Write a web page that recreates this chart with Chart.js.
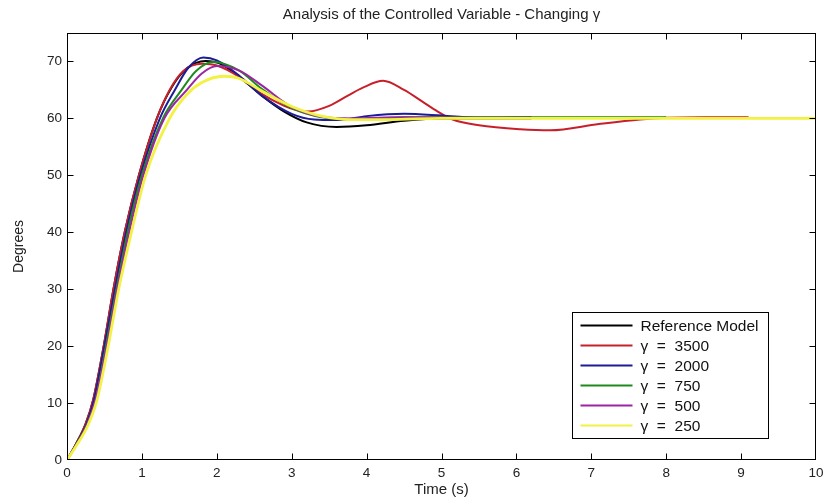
<!DOCTYPE html>
<html>
<head>
<meta charset="utf-8">
<script src="https://cdn.jsdelivr.net/npm/chart.js"></script>
<style>
  html, body { margin: 0; padding: 0; background: #fff; }
</style>
</head>
<body>
<canvas id="response-chart" width="825" height="502"></canvas>
<script>
const chartTitle = 'Analysis of the Controlled Variable - Changing \u03B3';
const seriesNames = ['Reference Model', '\u03B3  =  3500', '\u03B3  =  2000', '\u03B3  =  750', '\u03B3  =  500', '\u03B3  =  250'];
const seriesColors = ['#000000', '#c8202a', '#1c1c96', '#1e8a1e', '#9b25a3', '#f2f244'];
const xTicks = [0, 1, 2, 3, 4, 5, 6, 7, 8, 9, 10];
const yTicks = [0, 10, 20, 30, 40, 50, 60, 70];

// time (s) and angle (degrees) for each run
const tRef = [0, 0.12, 0.25, 0.35, 0.49, 0.62, 0.77, 0.96, 1.2, 1.4, 1.6, 1.85, 2.05, 2.3, 2.6, 2.9, 3.2, 3.6, 4.0, 4.5, 5.0, 5.5, 6.2];
const yRef = [0, 2.8, 6.4, 10.6, 20, 30, 40, 50, 60, 65.5, 68.8, 70.1, 69.6, 67.3, 64.0, 61.2, 59.3, 58.5, 58.8, 59.6, 60.0, 60.0, 60.0];

const t3500 = [0, 0.12, 0.25, 0.35, 0.49, 0.62, 0.77, 0.96, 1.2, 1.37, 1.55, 1.8, 2.0, 2.3, 2.6, 2.9, 3.05, 3.22, 3.5, 3.75, 3.95, 4.22, 4.5, 4.75, 4.95, 5.15, 5.5, 6.05, 6.45, 7.1, 7.65, 8.0, 8.5, 9.1];
const y3500 = [0, 2.8, 6.4, 10.6, 20, 30, 40, 50, 60, 65, 68.3, 69.6, 69.3, 67.3, 64.3, 62.2, 61.5, 61.2, 62.2, 64.0, 65.4, 66.6, 65.0, 62.9, 61.2, 59.8, 58.8, 58.1, 57.9, 59.0, 59.8, 60.1, 60.2, 60.2];

const t2000 = [0, 0.12, 0.26, 0.36, 0.5, 0.64, 0.79, 0.98, 1.24, 1.44, 1.62, 1.82, 2.0, 2.3, 2.6, 3.0, 3.3, 3.6, 4.0, 4.5, 5.0, 5.5, 6.2];
const y2000 = [0, 2.7, 6.3, 10.5, 20, 30, 40, 50, 60, 65, 68.9, 70.7, 70.2, 67.5, 64.0, 60.8, 59.8, 59.7, 60.4, 60.8, 60.5, 60.1, 60.2];

const t750 = [0, 0.12, 0.27, 0.38, 0.52, 0.66, 0.81, 1.0, 1.28, 1.53, 1.72, 1.95, 2.3, 2.6, 3.0, 3.4, 3.8, 4.5, 5.5, 6.5, 8.0];
const y750 = [0, 2.6, 6.3, 10.5, 20, 30, 40, 50, 60, 65, 68.3, 69.9, 68.4, 65.2, 61.8, 60.2, 59.9, 60.2, 60.2, 60.2, 60.2];

const t500 = [0, 0.12, 0.27, 0.38, 0.53, 0.67, 0.83, 1.02, 1.3, 1.6, 1.8, 2.0, 2.3, 2.6, 3.0, 3.4, 3.8, 4.5, 5.5, 6.2];
const y500 = [0, 2.5, 6.2, 10.5, 20, 30, 40, 50, 60, 65, 67.9, 69.2, 68.4, 65.8, 62.0, 60.3, 60.0, 60.2, 60.1, 60.1];

const t250 = [0, 0.12, 0.28, 0.4, 0.55, 0.69, 0.86, 1.05, 1.37, 1.6, 1.8, 2.09, 2.3, 2.6, 3.0, 3.4, 3.8, 4.3, 5.0, 6.0, 8.0, 10.0];
const y250 = [0, 2.4, 6.1, 10.5, 20, 30, 40, 50, 60, 64.2, 66.3, 67.4, 67.0, 64.8, 62.1, 60.4, 59.8, 59.8, 60.0, 60.0, 60.0, 60.0];

const runTimes = [tRef, t3500, t2000, t750, t500, t250];
const runValues = [yRef, y3500, y2000, y750, y500, y250];

const fontFamily = '"Liberation Sans", Arial, Helvetica, sans-serif';

const datasets = seriesNames.map((name, i) => ({
  label: name,
  data: runTimes[i].map((t, k) => ({ x: t, y: runValues[i][k] })),
  borderColor: seriesColors[i],
  borderWidth: i === 5 ? 2.8 : 2,
  pointRadius: 0,
  fill: false,
  cubicInterpolationMode: 'monotone',
  order: seriesNames.length - i
}));

// matlab style box, inward ticks, title and legend inside the axes
const matlabFrame = {
  id: 'matlabFrame',
  afterDatasetsDraw(chart) {
    const { ctx, chartArea: a, scales } = chart;
    const L = Math.round(a.left) + 0.5, R = Math.round(a.right) - 0.5;
    const T = Math.round(a.top) + 0.5, B = Math.round(a.bottom) - 0.5;
    ctx.save();
    ctx.strokeStyle = '#000';
    ctx.lineWidth = 1;
    ctx.strokeRect(L, T, R - L, B - T);
    ctx.beginPath();
    xTicks.slice(1, -1).forEach(v => {
      const px = Math.round(scales.x.getPixelForValue(v)) + 0.5;
      ctx.moveTo(px, B); ctx.lineTo(px, B - 6);
      ctx.moveTo(px, T); ctx.lineTo(px, T + 6);
    });
    yTicks.slice(1).forEach(v => {
      const py = Math.round(scales.y.getPixelForValue(v)) + 0.5;
      ctx.moveTo(L, py); ctx.lineTo(L + 6, py);
      ctx.moveTo(R, py); ctx.lineTo(R - 6, py);
    });
    ctx.stroke();

    // title
    ctx.fillStyle = '#222';
    ctx.font = '15px ' + fontFamily;
    ctx.textAlign = 'center';
    ctx.textBaseline = 'middle';
    ctx.fillText(chartTitle, (a.left + a.right) / 2, 15);

    // legend
    const rowH = 20;
    const boxW = 196, boxH = 126;
    const bx = Math.round(a.right - 48 - boxW) + 0.5;
    const by = Math.round(a.bottom - 22 - boxH) + 0.5;
    ctx.fillStyle = '#fff';
    ctx.fillRect(bx, by, boxW, boxH);
    ctx.strokeStyle = '#000';
    ctx.strokeRect(bx, by, boxW, boxH);
    ctx.font = '15.5px ' + fontFamily;
    ctx.textAlign = 'left';
    chart.data.datasets.forEach((ds, i) => {
      const y = by + 13 + i * rowH;
      ctx.strokeStyle = ds.borderColor;
      ctx.lineWidth = 2;
      ctx.beginPath();
      ctx.moveTo(bx + 8, y); ctx.lineTo(bx + 60, y);
      ctx.stroke();
      ctx.fillStyle = '#111';
      ctx.fillText(ds.label, bx + 68, y + 1);
    });
    ctx.restore();
  }
};

const ctx = document.getElementById('response-chart');

new Chart(ctx, {
  type: 'line',
  data: { datasets: datasets },
  options: {
    responsive: false,
    animation: false,
    devicePixelRatio: 1,
    layout: { padding: { top: 33, right: 9, left: 0, bottom: 0 } },
    plugins: {
      legend: { display: false },
      tooltip: { enabled: false },
      title: { display: false }
    },
    scales: {
      x: {
        type: 'linear',
        min: 0,
        max: 10,
        afterFit: s => { s.height = 42; s.paddingLeft = 0; s.paddingRight = 0; },
        afterBuildTicks: s => { s.ticks = xTicks.map(v => ({ value: v })); },
        grid: { display: false, drawTicks: false },
        border: { display: false },
        ticks: { color: '#222', padding: 5, maxRotation: 0, font: { family: fontFamily, size: 13.5 } },
        title: { display: true, text: 'Time (s)', color: '#222', padding: 3, font: { family: fontFamily, size: 15 } }
      },
      y: {
        type: 'linear',
        min: 0,
        max: 75,
        afterFit: s => { s.width = 67; s.paddingTop = 0; s.paddingBottom = 0; },
        afterBuildTicks: s => { s.ticks = yTicks.map(v => ({ value: v })); },
        grid: { display: false, drawTicks: false },
        border: { display: false },
        ticks: { color: '#222', padding: 5, font: { family: fontFamily, size: 13.5 } },
        title: { display: true, text: 'Degrees', color: '#222', padding: 11, font: { family: fontFamily, size: 14 } }
      }
    }
  },
  plugins: [matlabFrame]
});
</script>
</body>
</html>
